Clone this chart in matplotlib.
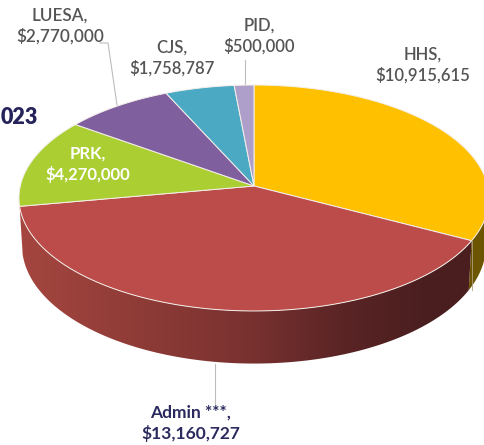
import numpy as np
import matplotlib
matplotlib.use("Agg")
import matplotlib.pyplot as plt
from matplotlib.patches import Polygon
from matplotlib.colors import LinearSegmentedColormap

names = ["HHS", "Admin ***", "PRK", "LUESA", "CJS", "PID"]
values = [10915615, 13160727, 4270000, 2770000, 1758787, 500000]
value_labels = ["$10,915,615", "$13,160,727", "$4,270,000", "$2,770,000", "$1,758,787", "$500,000"]
colors = ["#FFC000", "#BC4C4A", "#ABCF33", "#7F5F9E", "#4BA9C4", "#AD9FC9"]

plt.rcParams['font.family'] = ['Lato', 'DejaVu Sans']

# perspective of the pie plane, in pixels
cx, cy = 254, 186
a, b, p = 233.7, 111.7, 0.1062
depth = 47
shrink = 0.987


def project(ang, r=1.0):
    X = r * np.sin(ang)
    Y = r * np.cos(ang)
    w = 1 + p * Y
    return cx + a * X / w, cy - b * Y / w, w


def side_poly(start, stop):
    angs = np.linspace(start, stop, 300)
    xs, ys, ws = project(angs)
    top = list(zip(xs, ys))
    low = list(zip(cx + (xs - cx) * shrink, ys + depth / ws))
    return top + low[::-1]


fig = plt.figure(figsize=(4.85, 4.45), dpi=100)
ax = fig.add_axes([0, 0, 1, 1])

edges = np.radians(np.cumsum([0] + values) / sum(values) * 360)

# side wall, front part only
ax.add_patch(Polygon(side_poly(np.radians(90), edges[1]), closed=True, fc="#6B5500", ec="none", zorder=1))

wall = Polygon(side_poly(edges[1], edges[2]), closed=True, fc="none", ec="none", zorder=1)
ax.add_patch(wall)
shade = LinearSegmentedColormap.from_list("wall", [(0, "#A5463F"), (0.5, "#7A3230"), (0.72, "#5A2425"), (0.9, "#4A1E1F"), (1, "#4A1E1F")])
im = ax.imshow(np.linspace(0, 1, 256).reshape(1, -1), cmap=shade, extent=[19, 472, 380, 190], aspect="auto", zorder=1)
im.set_clip_path(wall)

x_e, y_e, w_e = project(edges[1])
ax.plot([x_e, x_e], [y_e, y_e + depth / w_e], color="#B0A080", lw=0.6, zorder=2)

# top surface
for i in range(len(values)):
    angs = np.linspace(edges[i], edges[i + 1], 200)
    xs, ys, _ = project(angs)
    pts = [(cx, cy)] + list(zip(xs, ys))
    ax.add_patch(Polygon(pts, closed=True, fc=colors[i], ec="#F4EFEA", lw=0.7, zorder=3))

# leader lines
leader = "#BDBDBD"
ax.plot([100, 108, 117], [43, 43, 105], color=leader, lw=0.8, zorder=4)
ax.plot([245, 245], [60, 85], color=leader, lw=0.8, zorder=2)
ax.plot([215, 215], [364, 407], color=leader, lw=0.8, zorder=2)

grey = "#555555"
navy = "#2B2A5E"
pos = [(423, 65), (191, 423), (88, 164), (60, 26), (172, 58), (259, 36)]
txt = [grey, navy, "white", grey, grey, grey]
wt = ["semibold", "bold", "bold", "semibold", "semibold", "semibold"]
sz = [12, 12.5, 12, 12.3, 12, 12]
for i in range(len(names)):
    ax.text(pos[i][0], pos[i][1], names[i] + ",\n" + value_labels[i], color=txt[i], fontsize=sz[i],
            fontweight=wt[i], ha="center", va="center", linespacing=1.3, zorder=5)

ax.text(38, 117, "023", color="#25235A", fontsize=15.5, fontweight="heavy", ha="right", va="center")

ax.set_xlim(0, 485)
ax.set_ylim(445, 0)
ax.axis("off")

fig.savefig("out.png", dpi=100)
